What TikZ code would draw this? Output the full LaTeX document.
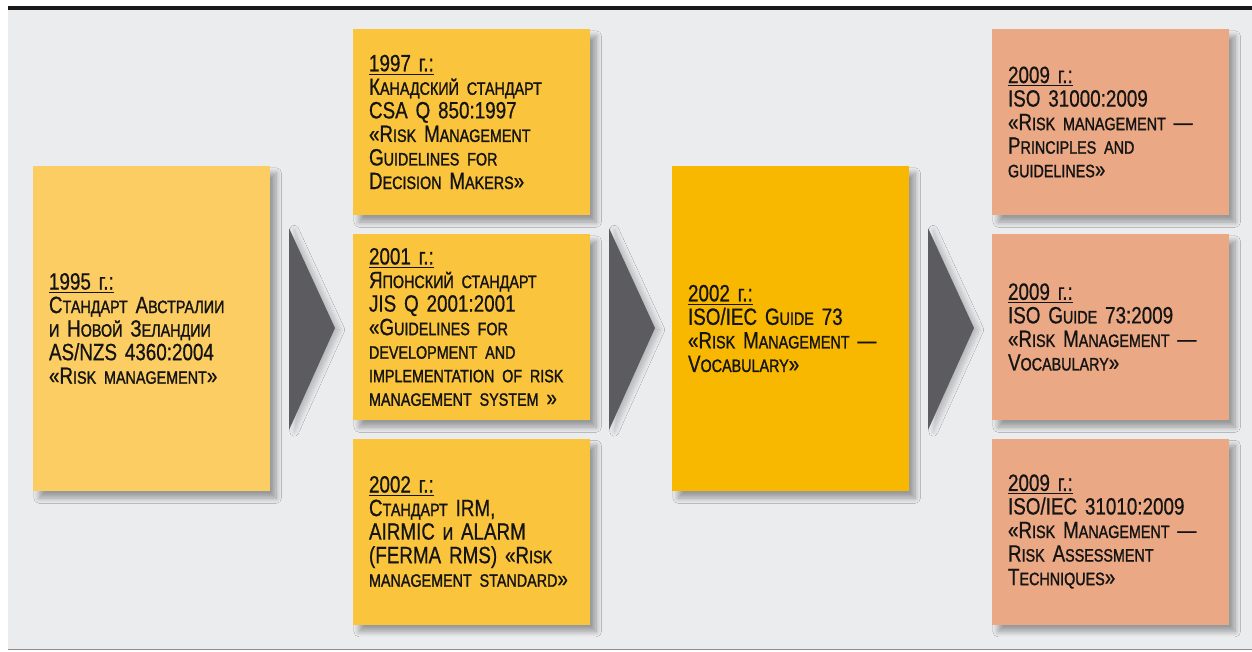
\documentclass[tikz,border=0pt]{standalone}
\usepackage{fontspec}
\setmainfont{Liberation Sans}[FakeStretch=0.8]
\usetikzlibrary{positioning,shadows.blur}
\definecolor{bggray}{HTML}{EBECEE}
\definecolor{paleyellow}{HTML}{FCCD62}
\definecolor{midyellow}{HTML}{FBC43D}
\definecolor{deepyellow}{HTML}{F8B800}
\definecolor{salmon}{HTML}{EBA884}
\definecolor{chevgray}{HTML}{5C5B60}
\newcommand\boxfont{\fontsize{13.4}{13.4}\selectfont\addfontfeatures{FakeBold=0.6}}
\newcommand\smc[1]{{\fontsize{10.2}{13.4}\selectfont\addfontfeatures{FakeBold=1.4}\MakeUppercase{#1}}}
\tikzset{
    stdbox/.style={fill=#1, text width=4.1cm, inner xsep=0.32cm, inner ysep=0pt,
        align=left, minimum height=3.72cm, font=\boxfont, text=black!92,
        blur shadow={shadow xshift=3.5pt, shadow yshift=-4pt, shadow blur radius=3pt, shadow blur steps=10, shadow opacity=35}},
    tallbox/.style={stdbox=#1, minimum height=6.5cm},
    chevron/.style={fill=chevgray, blur shadow={shadow xshift=3pt, shadow yshift=-1pt, shadow blur radius=2.5pt, shadow blur steps=8, shadow opacity=20}}
}

\begin{document}
\begin{tikzpicture}
    \useasboundingbox (0,0) rectangle (25.04,-13.02);
    \fill[bggray] (0.16,-0.19) rectangle (25.04,-12.97);
    \draw[black!90, line width=2pt] (0.16,-0.16) -- (25.04,-0.16);
    \draw[black!45, line width=1pt] (0.16,-12.99) -- (25.04,-12.99);
    \foreach \x in {5.78,12.18,18.56}
        \fill[chevron] (\x,-4.56) -- (\x+0.92,-6.56) -- (\x,-8.60) -- cycle;
    \node[tallbox=paleyellow] (b1995) at (3.03,-6.57) {\underline{1995 г.:}\\
        С\smc{тандарт} А\smc{встралии}\\
        \smc{и} Н\smc{овой} З\smc{еландии}\\
        AS/NZS 4360:2004\\
        «R\smc{isk management}»};
    \node[stdbox=midyellow] (b1997) at (9.43,-2.44) {\underline{1997 г.:}\\
        К\smc{анадский стандарт}\\
        CSA Q 850:1997\\
        «R\smc{isk} M\smc{anagement}\\
        G\smc{uidelines for}\\
        D\smc{ecision} M\smc{akers}»};
    \node[stdbox=midyellow] (b2001) at (9.43,-6.54) {\underline{2001 г.:}\\
        Я\smc{понский стандарт}\\
        JIS Q 2001:2001\\
        «G\smc{uidelines for}\\
        \smc{development and}\\
        \smc{implementation of risk}\\
        \smc{management system} »};
    \node[stdbox=midyellow] (b2002) at (9.43,-10.63) {\underline{2002 г.:}\\
        С\smc{тандарт} IRM,\\
        AIRMIC \smc{и} ALARM\\
        (FERMA RMS) «R\smc{isk}\\
        \smc{management standard}»};
    \node[tallbox=deepyellow] (iecguide) at (15.81,-6.57) {\underline{2002 г.:}\\
        ISO/IEC G\smc{uide} 73\\
        «R\smc{isk} M\smc{anagement} —\\
        V\smc{ocabulary}»};
    \node[stdbox=salmon] (iso31000) at (22.21,-2.44) {\underline{2009 г.:}\\
        ISO 31000:2009\\
        «R\smc{isk management} —\\
        P\smc{rinciples and}\\
        \smc{guidelines}»};
    \node[stdbox=salmon] (isoguide) at (22.21,-6.54) {\underline{2009 г.:}\\
        ISO G\smc{uide} 73:2009\\
        «R\smc{isk} M\smc{anagement} —\\
        V\smc{ocabulary}»};
    \node[stdbox=salmon] (iso31010) at (22.21,-10.63) {\underline{2009 г.:}\\
        ISO/IEC 31010:2009\\
        «R\smc{isk} M\smc{anagement} —\\
        R\smc{isk} A\smc{ssessment}\\
        T\smc{echniques}»};
\end{tikzpicture}
\end{document}
